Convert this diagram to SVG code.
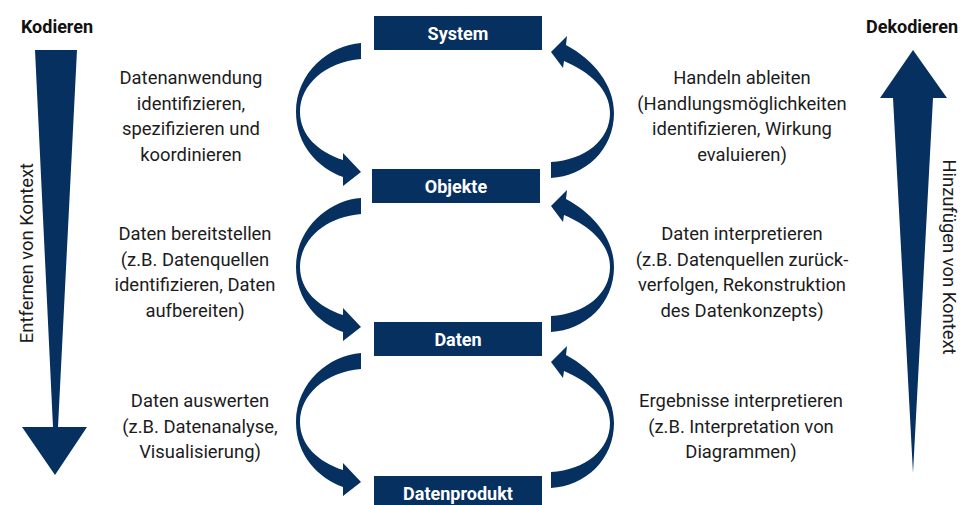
<svg xmlns="http://www.w3.org/2000/svg" xmlns:xlink="http://www.w3.org/1999/xlink" width="960" height="505" viewBox="0 0 960 505">
<style>
.box{fill:#06305f}
.lbl{font-family:Roboto,"Liberation Sans",sans-serif;font-weight:bold;font-size:18px;fill:#fff;text-anchor:middle}
.hd{font-family:Roboto,"Liberation Sans",sans-serif;font-weight:bold;font-size:18px;fill:#111}
.t{font-family:Roboto,"Liberation Sans",sans-serif;font-size:18.4px;fill:#1c1c1c;text-anchor:middle}
.arr{fill:#06305f}
</style>
<defs>
<path id="la" d="M361,43 C330,45 296,72 296,112 C296,145 318,168 343,177 L343,186 L361,172 L343,153 L343,160 C318,152 300,135 300,112 C300,85 325,62 361,59 Z"/>
<path id="ra" d="M551,178 C585,176 614,150 614,113 C614,85 594,60 566,45 L567,36 L551,52 L563,68 L564,61 C590,72 610,90 610,113 C610,140 585,160 551,162 Z"/>
</defs>
<rect width="960" height="505" fill="#fff"/>
<g id="connectors" class="arr">
<use xlink:href="#la"/>
<use xlink:href="#la" transform="translate(0,155)"/>
<use xlink:href="#la" transform="translate(0,310)"/>
<use xlink:href="#ra"/>
<use xlink:href="#ra" transform="translate(0,154)"/>
<use xlink:href="#ra" transform="translate(0,310)"/>
</g>
<g id="kodieren">
<text class="hd" x="57" y="33" text-anchor="middle">Kodieren</text>
<polygon class="arr" points="35,50 77,50 58,427 87,427 55,475 22,427 53,427"/>
<text class="t" transform="translate(33,253) rotate(-90)">Entfernen von Kontext</text>
</g>
<g id="dekodieren">
<text class="hd" x="866" y="33">Dekodieren</text>
<polygon class="arr" points="913,50 947,98 933,98 913,473 893,98 880,98"/>
<text class="t" transform="translate(943,257) rotate(90)">Hinzufügen von Kontext</text>
</g>
<g id="system"><rect class="box" x="374" y="16" width="168" height="34"/><text class="lbl" x="458" y="39.5">System</text></g>
<g id="objekte"><rect class="box" x="372" y="169" width="168" height="34"/><text class="lbl" x="456" y="192.5">Objekte</text></g>
<g id="daten"><rect class="box" x="374" y="322" width="168" height="34"/><text class="lbl" x="458" y="345.5">Daten</text></g>
<g id="datenprodukt"><rect class="box" x="374" y="476" width="168" height="34"/><text class="lbl" x="458" y="499.5">Datenprodukt</text></g>
<g id="t-l1"><text class="t" x="191" y="84">Datenanwendung</text><text class="t" x="191" y="110">identifizieren,</text><text class="t" x="191" y="135">spezifizieren und</text><text class="t" x="191" y="161">koordinieren</text></g>
<g id="t-l2"><text class="t" x="195" y="240">Daten bereitstellen</text><text class="t" x="195" y="266">(z.B. Datenquellen</text><text class="t" x="195" y="291">identifizieren, Daten</text><text class="t" x="195" y="317">aufbereiten)</text></g>
<g id="t-l3"><text class="t" x="200" y="407">Daten auswerten</text><text class="t" x="200" y="433">(z.B. Datenanalyse,</text><text class="t" x="200" y="458">Visualisierung)</text></g>
<g id="t-r1"><text class="t" x="742" y="84">Handeln ableiten</text><text class="t" x="742" y="110">(Handlungsmöglichkeiten</text><text class="t" x="742" y="135">identifizieren, Wirkung</text><text class="t" x="742" y="161">evaluieren)</text></g>
<g id="t-r2"><text class="t" x="742" y="240">Daten interpretieren</text><text class="t" x="742" y="266">(z.B. Datenquellen zurück-</text><text class="t" x="742" y="291">verfolgen, Rekonstruktion</text><text class="t" x="742" y="317">des Datenkonzepts)</text></g>
<g id="t-r3"><text class="t" x="741" y="407">Ergebnisse interpretieren</text><text class="t" x="741" y="433">(z.B. Interpretation von</text><text class="t" x="741" y="458">Diagrammen)</text></g>
</svg>
